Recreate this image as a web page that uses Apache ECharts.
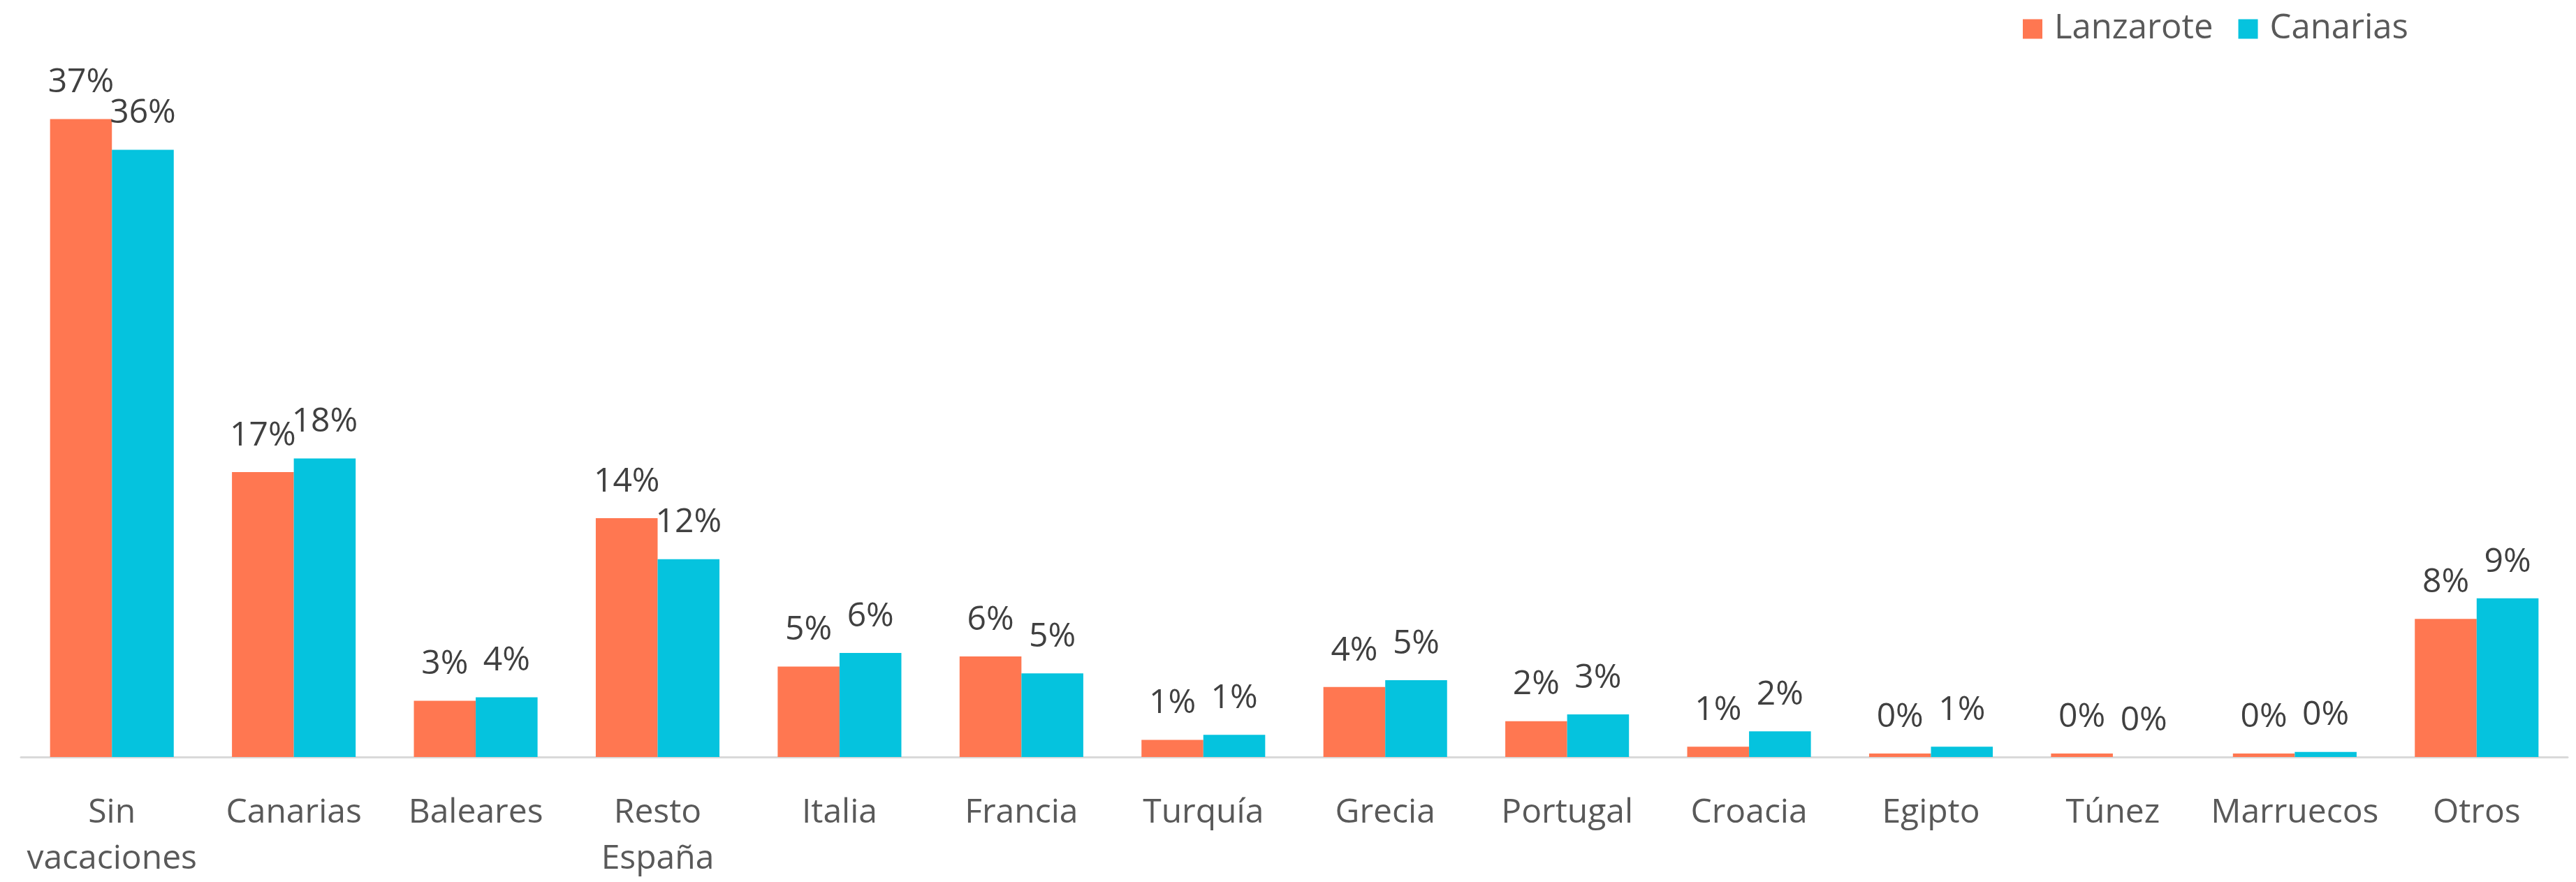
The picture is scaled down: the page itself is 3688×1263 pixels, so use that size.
<!DOCTYPE html>
<html>
<head>
<meta charset="utf-8">
<script src="https://cdn.jsdelivr.net/npm/echarts@6/dist/echarts.min.js"></script>
<style>
html, body { margin: 0; padding: 0; background: #fff; }
#main { width: 3688px; height: 1263px; }
</style>
</head>
<body>
<div id="main"></div>
<script>
// datos
var categorias = ['Sin\nvacaciones', 'Canarias', 'Baleares', 'Resto\nEspaña', 'Italia', 'Francia', 'Turquía',
    'Grecia', 'Portugal', 'Croacia', 'Egipto', 'Túnez', 'Marruecos', 'Otros'];
var lanzarote = [37.4, 16.7, 3.3, 14.0, 5.3, 5.9, 1.0, 4.1, 2.1, 0.6, 0.2, 0.2, 0.2, 8.1];
var canarias = [35.6, 17.5, 3.5, 11.6, 6.1, 4.9, 1.3, 4.5, 2.5, 1.5, 0.6, 0.0, 0.3, 9.3];

var fuente = '"Open Sans", "Noto Sans", sans-serif';

function etiqueta(p) {
    return Math.round(p.value) + '%';
}

var myChart = echarts.init(document.getElementById('main'));
var option = {
    animation: false,
    legend: {
        data: ['Lanzarote', 'Canarias'],
        left: 2891,
        top: 12,
        icon: 'rect',
        itemWidth: 28,
        itemHeight: 28,
        itemGap: 36,
        textStyle: {
            fontFamily: fuente,
            fontSize: 49,
            color: '#595959',
            padding: [0, 0, 0, 12]
        }
    },
    grid: {
        left: 30,
        right: 12,
        top: 107,
        bottom: 176
    },
    xAxis: {
        type: 'category',
        data: categorias,
        axisLine: { lineStyle: { color: '#D9D9D9', width: 3 } },
        axisTick: { show: false },
        axisLabel: {
            interval: 0,
            margin: 47,
            fontFamily: fuente,
            fontSize: 48,
            lineHeight: 66,
            color: '#595959'
        }
    },
    yAxis: {
        type: 'value',
        min: 0,
        max: 40,
        show: false
    },
    series: [
        {
            name: 'Lanzarote',
            type: 'bar',
            data: lanzarote,
            barGap: '0%',
            barCategoryGap: '32%',
            itemStyle: { color: '#FF7751' },
            label: {
                show: true,
                position: 'top',
                distance: 28,
                formatter: etiqueta,
                fontFamily: fuente,
                fontSize: 48,
                color: '#404040'
            }
        },
        {
            name: 'Canarias',
            type: 'bar',
            data: canarias,
            barGap: '0%',
            barCategoryGap: '32%',
            itemStyle: { color: '#05C3DE' },
            label: {
                show: true,
                position: 'top',
                distance: 28,
                formatter: etiqueta,
                fontFamily: fuente,
                fontSize: 48,
                color: '#404040'
            }
        }
    ]
};
myChart.setOption(option);
</script>
</body>
</html>
